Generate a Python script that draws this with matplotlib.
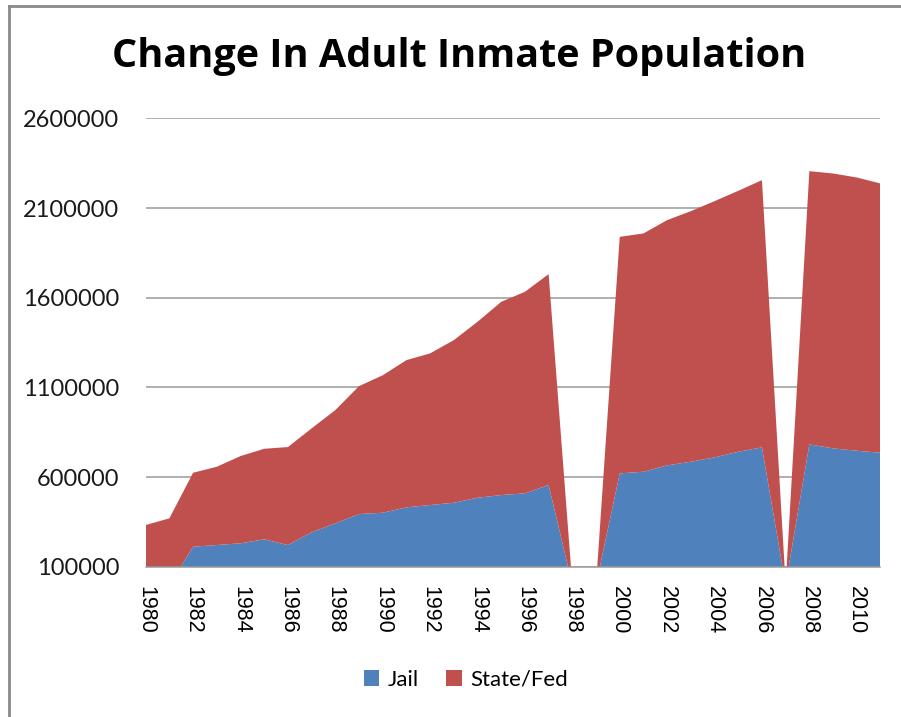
import matplotlib
matplotlib.use("Agg")
import matplotlib.pyplot as plt
from matplotlib.patches import Patch
from matplotlib.lines import Line2D
import numpy as np

years = list(range(1980, 2012))

# Jail population (0 where no figure was reported)
jail = [0, 0, 211500, 221000, 230400, 252700, 221000, 291700, 341900, 393700,
        401000, 431000, 444000, 456700, 484600, 499600, 509000, 555400, 0, 0,
        620400, 629600, 665000, 685300, 709600, 741000, 765500, 0, 782200, 760000,
        746600, 735600]

# State and federal prison population
state_fed = [332400, 369800, 412500, 436400, 486600, 505000, 546200, 579700, 631500, 713300,
             766500, 821000, 845500, 906900, 981100, 1077400, 1124000, 1176200, 0, 0,
             1319000, 1328800, 1367600, 1397400, 1428900, 1455000, 1490000, 0, 1523500, 1532700,
             1523800, 1501400]

y_ticks = [100000, 600000, 1100000, 1600000, 2100000, 2600000]
x_ticks = list(range(1980, 2012, 2))

BLUE = "#4F81BD"
RED = "#C0504D"
GRID = "#9A9A9A"

fig = plt.figure(figsize=(9.01, 7.17), dpi=100)
fig.patch.set_facecolor("white")

ax = fig.add_axes([0.1617, 0.2096, 0.8155, 0.6253])
ax.stackplot(years, jail, state_fed, colors=[BLUE, RED], labels=["Jail", "State/Fed"],
             linewidth=0.6, edgecolor="none", zorder=2)

ax.set_xlim(1980, 2011)
ax.set_ylim(100000, 2600000)
ax.set_yticks(y_ticks)
ax.set_yticklabels([str(v) for v in y_ticks])
ax.set_xticks(x_ticks)
ax.set_xticklabels([str(v) for v in x_ticks], rotation=-90, fontfamily="Liberation Sans",
                   fontsize=15.5, va="top", ha="center")

for lbl in ax.get_yticklabels():
    lbl.set_fontfamily("Lato")
    lbl.set_fontsize(17)
    lbl.set_color("#1a1a1a")

ax.tick_params(axis="both", length=0)
ax.tick_params(axis="y", pad=19)
ax.tick_params(axis="x", pad=14)

ax.grid(axis="y", color=GRID, linewidth=1.1, zorder=0)
ax.set_axisbelow(True)
for side in ["left", "right", "top"]:
    ax.spines[side].set_visible(False)
ax.spines["bottom"].set_color(GRID)
ax.spines["bottom"].set_linewidth(1.1)
ax.spines["bottom"].set_zorder(3)

fig.text(459 / 901, 1 - 57 / 717, "Change In Adult Inmate Population", ha="center", va="center",
         fontfamily="Open Sans", fontweight="bold", fontsize=28.5, color="black")

handles = [Patch(facecolor=BLUE, edgecolor="none", label="Jail"),
           Patch(facecolor=RED, edgecolor="none", label="State/Fed")]
leg = fig.legend(handles=handles, loc="center", bbox_to_anchor=(466 / 901, 1 - 680 / 717),
                 ncol=2, frameon=False, prop={"family": "Lato", "size": 16},
                 handlelength=0.7, handleheight=0.7, handletextpad=0.4, columnspacing=1.2)

# chart frame (left and top edges)
fig.add_artist(Line2D([9 / 901, 9 / 901], [0, 1 - 6 / 717], transform=fig.transFigure,
                      color="#8a8a8a", linewidth=2))
fig.add_artist(Line2D([9 / 901, 1], [1 - 6 / 717, 1 - 6 / 717], transform=fig.transFigure,
                      color="#8a8a8a", linewidth=2))

fig.savefig("out.png", dpi=100)
